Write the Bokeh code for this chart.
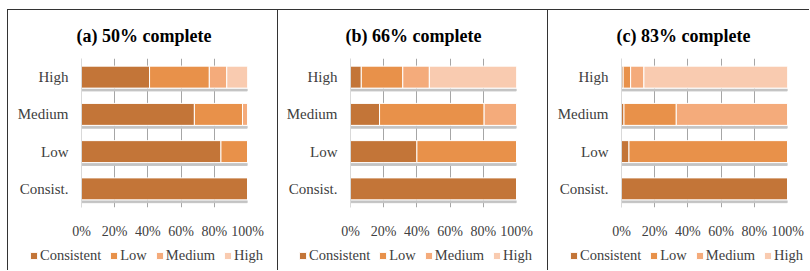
from bokeh.plotting import figure
from bokeh.models import (FactorRange, Range1d, FixedTicker, PrintfTickFormatter,
                          Legend, LegendItem, ColumnDataSource, Spacer)
from bokeh.transform import dodge
from bokeh.layouts import row, column
from bokeh.embed import file_html
from bokeh.resources import INLINE

# ---- data -------------------------------------------------------------
categories = ["Consist.", "Low", "Medium", "High"]          # bottom -> top
series = ["Consistent", "Low", "Medium", "High"]
colors = ["#C37538", "#E8914A", "#F4AB7B", "#F9CBB0"]
titles = ["(a) 50% complete", "(b) 66% complete", "(c) 83% complete"]
x_ticks = [0, 20, 40, 60, 80, 100]

# (a) 50% complete
a_consistent = [100, 84, 68, 41]
a_low = [0, 16, 29, 36]
a_medium = [0, 0, 3, 10.5]
a_high = [0, 0, 0, 12.5]

# (b) 66% complete
b_consistent = [100, 40, 17.5, 6.5]
b_low = [0, 60, 63, 25]
b_medium = [0, 0, 19.5, 16]
b_high = [0, 0, 0, 52.5]

# (c) 83% complete
c_consistent = [100, 4.5, 1.5, 1]
c_low = [0, 95.5, 31.5, 4.5]
c_medium = [0, 0, 67, 8]
c_high = [0, 0, 0, 86.5]

panels = [
    (titles[0], [a_consistent, a_low, a_medium, a_high], 270, 73, 21),
    (titles[1], [b_consistent, b_low, b_medium, b_high], 270, 72, 20),
    (titles[2], [c_consistent, c_low, c_medium, c_high], 262, 73, 21),
]

SERIF = "Liberation Serif"
TXT = "#404040"
MAIN_H = 231
LEG_H = 30
TOP = 48
FRAME_H = 150
FRAME_W = 165
BORDER = "1px solid #333"


def make_panel(title, values, width, left, leg_x):
    data = dict(cat=categories)
    for name, vals in zip(series, values):
        data[name] = vals
    data["total"] = [sum(v) for v in zip(*values)]
    src = ColumnDataSource(data)

    content_w = width - 1
    p = figure(y_range=FactorRange(*categories), x_range=Range1d(0, 100),
               width=width, height=MAIN_H, output_backend="svg", toolbar_location=None,
               min_border_left=left, min_border_right=content_w - left - FRAME_W,
               min_border_top=TOP, min_border_bottom=MAIN_H - 1 - TOP - FRAME_H,
               frame_align=False)
    p.outline_line_color = None
    p.background_fill_color = "white"
    p.border_fill_color = "white"

    # bar shadows
    p.hbar(y=dodge("cat", -0.345, range=p.y_range), left=0, right="total",
           height=0.05, color="#C4C4C4", source=src)

    p.hbar_stack(series, y="cat", height=0.59, color=colors,
                 line_color="white", line_width=1, source=src)

    # axes
    p.xaxis.ticker = FixedTicker(ticks=x_ticks)
    p.xaxis.formatter = PrintfTickFormatter(format="%d%%")
    p.xaxis.axis_line_color = None
    p.xaxis.major_tick_line_color = None
    p.xaxis.minor_tick_line_color = None
    p.xaxis.major_label_standoff = 10
    p.xaxis.major_label_text_font = SERIF
    p.xaxis.major_label_text_font_size = "14px"
    p.xaxis.major_label_text_color = TXT

    p.yaxis.axis_line_color = "#D9D9D9"
    p.yaxis.major_tick_line_color = None
    p.yaxis.minor_tick_line_color = None
    p.yaxis.major_label_standoff = 7
    p.yaxis.major_label_text_font = SERIF
    p.yaxis.major_label_text_font_size = "15px"
    p.yaxis.major_label_text_color = TXT

    p.xgrid.ticker = FixedTicker(ticks=x_ticks[1:])
    p.xgrid.grid_line_color = "#A6A6A6"
    p.ygrid.grid_line_color = None

    # title
    p.title.text = title
    p.title.text_font = SERIF
    p.title.text_font_style = "bold"
    p.title.text_font_size = "18px"
    p.title.text_color = "black"
    p.title.align = "left"
    p.title.offset = -5
    p.title.standoff = 26

    p.styles = {"border-left": BORDER, "border-top": BORDER}

    # legend strip below the chart (hidden copies of the bars feed the legend)
    lf = figure(y_range=FactorRange(*categories), x_range=Range1d(0, 100),
                width=width, height=LEG_H, output_backend="svg", toolbar_location=None,
                min_border=0, frame_align=False)
    lf.axis.visible = False
    lf.grid.visible = False
    lf.outline_line_color = None
    lf.background_fill_color = "white"
    lf.border_fill_color = "white"
    rends = lf.hbar_stack(series, y="cat", height=0.59, color=colors,
                          line_color="white", line_width=1, source=src, visible=False)
    items = [LegendItem(label=name, renderers=[r]) for name, r in zip(series, rends)]
    legend = Legend(items=items, orientation="horizontal", location=(leg_x, 6),
                    glyph_width=9, glyph_height=9, label_standoff=2, spacing=8,
                    padding=0, margin=0, border_line_color=None,
                    background_fill_alpha=0,
                    label_text_font=SERIF, label_text_font_size="14.5px",
                    label_text_color=TXT)
    lf.add_layout(legend)
    lf.styles = {"border-left": BORDER}
    return column(p, lf)


cols = [make_panel(*pp) for pp in panels]
layout = column(Spacer(width=800, height=9),
                row(Spacer(width=7, height=MAIN_H + LEG_H), *cols))

open("out.html", "w").write(file_html(layout, INLINE))
